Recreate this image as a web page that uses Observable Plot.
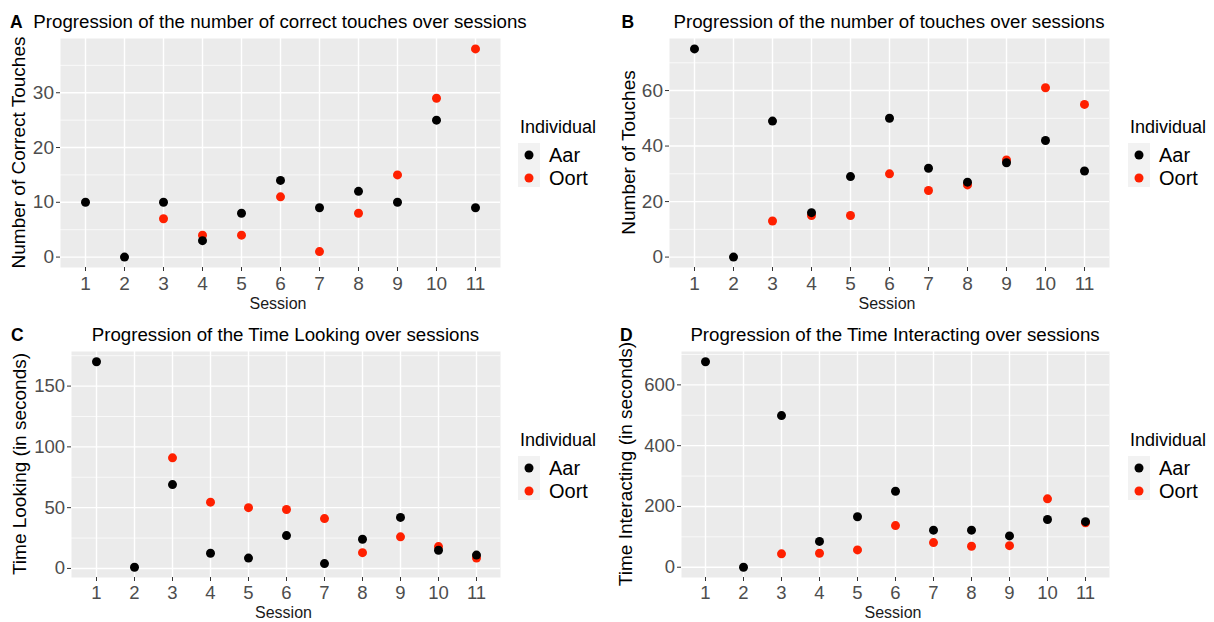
<!DOCTYPE html>
<html>
<head>
<meta charset="utf-8">
<script src="https://cdn.jsdelivr.net/npm/d3@7"></script>
<script src="https://cdn.jsdelivr.net/npm/@observablehq/plot@0.6"></script>
<style>
  html, body { margin: 0; padding: 0; background: #ffffff; }
  #fig { position: relative; width: 1214px; height: 622px; overflow: hidden; background: #ffffff;
         font-family: "Liberation Sans", Arial, sans-serif; }
  .panel { position: absolute; }
</style>
</head>
<body>
<div id="fig"></div>
<script>
// ---------- data ----------
const sessions = [1, 2, 3, 4, 5, 6, 7, 8, 9, 10, 11];
const individuals = ["Aar", "Oort"];
const individualColors = ["#000000", "#ff2000"];

const correctAar  = [10, 0, 10, 3, 8, 14, 9, 12, 10, 25, 9];
const correctOort = [null, null, 7, 4, 4, 11, 1, 8, 15, 29, 38];

const touchesAar  = [75, 0, 49, 16, 29, 50, 32, 27, 34, 42, 31];
const touchesOort = [null, null, 13, 15, 15, 30, 24, 26, 35, 61, 55];

const lookingAar  = [170, 1, 69, 12.5, 8.5, 27, 4, 24, 42, 15, 11];
const lookingOort = [null, null, 91, 54.5, 50, 48.5, 41, 13, 26, 18, 8.5];

const interactAar  = [676, 0, 499, 85, 166, 250, 122, 122, 103, 157, 150];
const interactOort = [null, null, 44, 46, 57, 137, 81, 69, 71, 225, 146];

const ticksA = [0, 10, 20, 30],    minorA = [5, 15, 25, 35];
const ticksB = [0, 20, 40, 60],    minorB = [10, 30, 50, 70];
const ticksC = [0, 50, 100, 150],  minorC = [25, 75, 125, 175];
const ticksD = [0, 200, 400, 600], minorD = [100, 300, 500, 700];

const titles = [
  "Progression of the number of correct touches over sessions",
  "Progression of the number of touches over sessions",
  "Progression of the Time Looking over sessions",
  "Progression of the Time Interacting over sessions"
];
const yLabels = [
  "Number of Correct Touches",
  "Number of Touches",
  "Time Looking (in seconds)",
  "Time Interacting (in seconds)"
];
const letters = ["A", "B", "C", "D"];
const xLabel = "Session";
const legendTitle = "Individual";

// ---------- layout ----------
const FONT = '"Liberation Sans", Arial, sans-serif';
const PW = 607, PH = 311;
const panels = [
  {ox: 0,   oy: 0,   mt: 38, mr: 107, mb: 44, ml: 60, letterX: 10,   ylabX: 25, legX: 520, xlabDy: 42, tickFs: 19,   tickPad: 5, aar: correctAar,  oort: correctOort,  major: ticksA, minor: minorA},
  {ox: 607, oy: 0,   mt: 38, mr: 105, mb: 44, ml: 62, letterX: 14.5, ylabX: 28, legX: 523, xlabDy: 42, tickFs: 19,   tickPad: 5, aar: touchesAar,  oort: touchesOort,  major: ticksB, minor: minorB},
  {ox: 0,   oy: 311, mt: 40, mr: 107, mb: 45, ml: 71, letterX: 11,   ylabX: 26, legX: 520, xlabDy: 41, tickFs: 18.5, tickPad: 4, aar: lookingAar,  oort: lookingOort,  major: ticksC, minor: minorC},
  {ox: 607, oy: 311, mt: 40, mr: 105, mb: 45, ml: 74, letterX: 13,   ylabX: 25, legX: 523, xlabDy: 41, tickFs: 18.5, tickPad: 4, aar: interactAar, oort: interactOort, major: ticksD, minor: minorD}
];

const fig = document.getElementById("fig");

panels.forEach((p, i) => {
  const rows = [];
  sessions.forEach((s, k) => { if (p.oort[k] != null) rows.push({session: s, value: p.oort[k], ind: "Oort"}); });
  sessions.forEach((s, k) => { if (p.aar[k] != null) rows.push({session: s, value: p.aar[k], ind: "Aar"}); });
  const [lo, hi] = d3.extent(rows, d => d.value);
  const pad = (hi - lo) * 0.05;

  const chart = Plot.plot({
    width: PW, height: PH,
    marginTop: p.mt, marginRight: p.mr, marginBottom: p.mb, marginLeft: p.ml,
    x: {type: "point", domain: sessions, padding: 0.6},
    y: {domain: [lo - pad, hi + pad]},
    color: {domain: individuals, range: individualColors},
    style: {fontFamily: FONT, background: "transparent", overflow: "visible"},
    marks: [
      Plot.frame({fill: "#ebebeb", stroke: "none"}),
      Plot.ruleY(p.minor, {stroke: "#ffffff", strokeWidth: 0.7}),
      Plot.ruleY(p.major, {stroke: "#ffffff", strokeWidth: 1.4}),
      Plot.ruleX(sessions, {stroke: "#ffffff", strokeWidth: 1.4}),
      Plot.axisX({tickSize: 4, tickPadding: p.tickPad, fontSize: p.tickFs, fill: "#4d4d4d", stroke: "#333333", label: null}),
      Plot.axisY({ticks: p.major, tickSize: 4, tickPadding: 2.5, fontSize: p.tickFs, fill: "#4d4d4d", stroke: "#333333", label: null}),
      Plot.dot(rows, {x: "session", y: "value", fill: "ind", r: 4.5, stroke: "none"})
    ]
  });
  const wrap = document.createElement("div");
  wrap.className = "panel";
  wrap.style.left = p.ox + "px";
  wrap.style.top = p.oy + "px";
  wrap.appendChild(chart);
  fig.appendChild(wrap);
});

// ---------- text overlay (titles, axis titles, legends) ----------
const ov = d3.select(fig).append("svg")
  .attr("width", 1214).attr("height", 622)
  .style("position", "absolute").style("left", 0).style("top", 0)
  .style("font-family", FONT);

panels.forEach((p, i) => {
  const g = ov.append("g").attr("transform", `translate(${p.ox},${p.oy})`);
  const cx = p.ml + (PW - p.ml - p.mr) / 2;
  const cy = p.mt + (PH - p.mt - p.mb) / 2;
  const base = p.mt - 10;
  g.append("text").attr("x", p.letterX).attr("y", base)
    .attr("font-size", 17.5).attr("font-weight", "bold").attr("fill", "#000").text(letters[i]);
  g.append("text").attr("x", cx).attr("y", base).attr("text-anchor", "middle")
    .attr("font-size", 18.7).attr("fill", "#000").text(titles[i]);
  g.append("text").attr("transform", `translate(${p.ylabX},${cy}) rotate(-90)`)
    .attr("text-anchor", "middle").attr("font-size", 19).attr("fill", "#000").text(yLabels[i]);
  g.append("text").attr("x", cx - 2).attr("y", PH - p.mb + p.xlabDy).attr("text-anchor", "middle")
    .attr("font-size", 16).attr("fill", "#1a1a1a").text(xLabel);

  const lg = g.append("g").attr("transform", `translate(${p.legX},${p.mt - 38})`);
  lg.append("text").attr("x", 0).attr("y", 133).attr("font-size", 18).attr("fill", "#000").text(legendTitle);
  lg.append("rect").attr("x", -2).attr("y", 143).attr("width", 22).attr("height", 44).attr("fill", "#f2f2f2");
  individuals.forEach((name, k) => {
    lg.append("circle").attr("cx", 9).attr("cy", 155 + k * 23).attr("r", 4.5).attr("fill", individualColors[k]);
    lg.append("text").attr("x", 29).attr("y", 162 + k * 23).attr("font-size", 20).attr("fill", "#000").text(name);
  });
});
</script>
</body>
</html>
